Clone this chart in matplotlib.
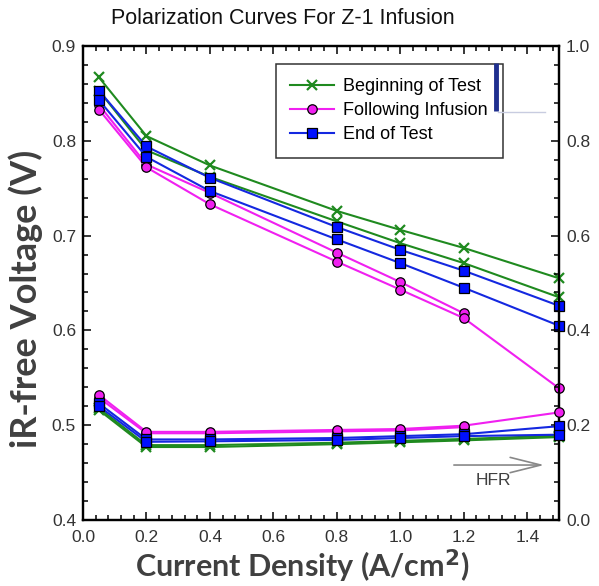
import numpy as np
import matplotlib

matplotlib.use("Agg")
import matplotlib.pyplot as plt
from matplotlib.ticker import MultipleLocator, FormatStrFormatter

# corriente (A/cm2) de cada punto de la curva
j = [0.05, 0.2, 0.4, 0.8, 1.0, 1.2, 1.5]

# voltaje libre de iR (V), dos réplicas por condición
bot_a = [0.867, 0.805, 0.774, 0.726, 0.706, 0.687, 0.655]
bot_b = [0.853, 0.790, 0.762, 0.715, 0.692, 0.671, 0.635]
fi_a = [0.838, 0.775, 0.745, 0.682, 0.651, 0.618]
fi_b = [0.833, 0.772, 0.733, 0.6725, 0.643, 0.613, 0.539]
eot_a = [0.853, 0.794, 0.761, 0.709, 0.685, 0.663, 0.626]
eot_b = [0.843, 0.783, 0.747, 0.696, 0.671, 0.645, 0.605]

# HFR (eje derecho)
hfr_bot_a = [0.236, 0.158, 0.158, 0.163, 0.167, 0.171, 0.178]
hfr_bot_b = [0.232, 0.154, 0.154, 0.160, 0.164, 0.168, 0.175]
hfr_fi_a = [0.258, 0.183, 0.183, 0.187, 0.189, 0.196]
hfr_fi_b = [0.264, 0.186, 0.186, 0.190, 0.192, 0.199, 0.227]
hfr_eot_a = [0.246, 0.170, 0.170, 0.173, 0.177, 0.181, 0.198]
hfr_eot_b = [0.240, 0.165, 0.166, 0.169, 0.173, 0.177, 0.180]

etiquetas = ["Beginning of Test", "Following Infusion", "End of Test"]

plt.rcParams["font.family"] = ["Liberation Sans", "DejaVu Sans"]

VERDE = "#1f8a1f"
MAGENTA = "#f020f0"
AZUL = "#1428e0"
estilos = {
    "bot": dict(color=VERDE, marker="x", ms=7, mew=1.6, lw=1.5),
    "fi": dict(color=MAGENTA, marker="o", ms=6.8, mfc=MAGENTA, mec="black", mew=0.9, lw=1.5),
    "eot": dict(color=AZUL, marker="s", ms=6.5, mfc="#0010ff", mec="black", mew=0.9, lw=1.5),
}

fig = plt.figure(figsize=(5.99, 5.86), dpi=100)
ax = fig.add_axes([0.1386, 0.1126, 0.7946, 0.8089])
ax2 = ax.twinx()

pol = {"bot": [bot_a, bot_b], "fi": [fi_a, fi_b], "eot": [eot_a, eot_b]}
hfr = {"bot": [hfr_bot_a, hfr_bot_b], "fi": [hfr_fi_a, hfr_fi_b],
       "eot": [hfr_eot_a, hfr_eot_b]}

handles = []
for k, lab in zip(["bot", "fi", "eot"], etiquetas):
    for i, v in enumerate(pol[k]):
        h, = ax.plot(j[:len(v)], v, clip_on=False, zorder=3, **estilos[k])
        if i == 0:
            handles.append(h)
    for v in hfr[k]:
        ax2.plot(j[:len(v)], v, clip_on=False, zorder=3, **estilos[k])

ax.set_xlim(0, 1.5)
ax.set_ylim(0.4, 0.9)
ax2.set_ylim(0.0, 1.0)

ax.xaxis.set_major_locator(MultipleLocator(0.2))
ax.xaxis.set_minor_locator(MultipleLocator(0.04))
ax.yaxis.set_major_locator(MultipleLocator(0.1))
ax.yaxis.set_minor_locator(MultipleLocator(0.02))
ax2.yaxis.set_major_locator(MultipleLocator(0.2))
ax2.yaxis.set_minor_locator(MultipleLocator(0.04))
ax.xaxis.set_major_formatter(FormatStrFormatter("%.1f"))
ax.yaxis.set_major_formatter(FormatStrFormatter("%.1f"))
ax2.yaxis.set_major_formatter(FormatStrFormatter("%.1f"))

for a in (ax, ax2):
    a.tick_params(which="both", direction="in", width=1.1, colors="black",
                  labelcolor="#333333", labelsize=12.5)
    a.tick_params(which="major", length=6)
    a.tick_params(which="minor", length=3.5)
    for s in a.spines.values():
        s.set_linewidth(1.6)
ax.tick_params(axis="x", which="both", top=True, pad=7)
ax.tick_params(axis="y", which="both", right=False, pad=5)
ax2.tick_params(axis="y", which="both", left=False, pad=5)

leg = ax.legend(handles, etiquetas, loc="upper left", bbox_to_anchor=(0.405, 0.962),
                fontsize=13, frameon=True, fancybox=False, handlelength=2.45,
                handletextpad=0.5, borderpad=0.8, labelspacing=0.38, borderaxespad=0)
leg.get_frame().set_edgecolor("black")
leg.get_frame().set_linewidth(1.1)
leg.set_zorder(5)

# trazos sueltos junto a la leyenda
ax.plot([0.868, 0.868], [0.964, 0.863], transform=ax.transAxes, color="#1f2f8f",
        lw=3.5, clip_on=False, zorder=6, solid_capstyle="butt")
ax.plot([0.872, 0.97], [0.861, 0.861], transform=ax.transAxes, color="#c8cce0",
        lw=1, clip_on=False, zorder=6)

# flecha HFR -> eje derecho
ax2.annotate("", xy=(1.462, 0.116), xytext=(1.16, 0.116),
             arrowprops=dict(arrowstyle="->,head_length=2.2,head_width=0.55",
                             color="#888888", lw=1.2))
ax2.text(1.293, 0.084, "HFR", ha="center", va="center", fontsize=12.5, color="#404040")

fig.text(0.472, 0.969, "Polarization Curves For Z-1 Infusion", ha="center", va="center",
         fontsize=15.5, color="#111111")
fig.text(0.504, 0.034, "Current Density (A/cm$^\\mathbf{2}$)", ha="center", va="center",
         fontsize=22, fontweight="bold", family=["Lato", "DejaVu Sans"], color="#404040")
fig.text(0.043, 0.49, "iR-free Voltage (V)", ha="center", va="center", rotation=90,
         fontsize=26, fontweight="bold", family=["Lato", "DejaVu Sans"], color="#404040")

fig.savefig("out.png", dpi=100)
